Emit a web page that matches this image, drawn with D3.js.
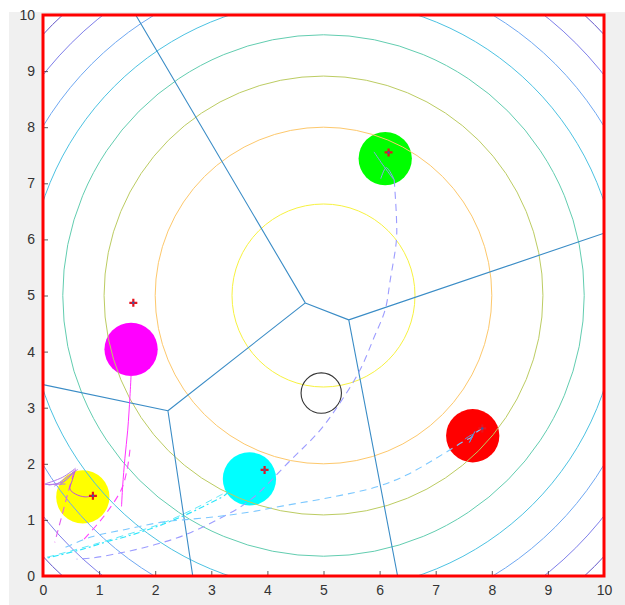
<!DOCTYPE html>
<html>
<head>
<meta charset="utf-8">
<script src="https://cdn.jsdelivr.net/npm/d3@7"></script>
<style>
  html, body { margin: 0; padding: 0; background: #ffffff; }
  svg { display: block; }
</style>
</head>
<body>
<svg id="chart" width="625" height="605"></svg>
<script>
// Axis ticks
const xTicks = [0, 1, 2, 3, 4, 5, 6, 7, 8, 9, 10];
const yTicks = [0, 1, 2, 3, 4, 5, 6, 7, 8, 9, 10];

// Contour levels of the squared distance to the field centre (5, 5), outermost first
const fieldCentre = [5, 5];
const contourLevels = [46.65, 40.45, 34.1, 27.8, 21.6, 15.3, 9.0, 2.66];
const contourColors = ["#6558c8", "#7e7eea", "#6fa8f2", "#4cc2e2", "#62cdb0", "#bccc62", "#fdc86c", "#f7f240"];

// Voronoi sites (targets) and agent bodies
const sites = [[6.16, 7.55], [1.61, 4.87], [0.89, 1.43], [3.95, 1.89], [7.83, 2.63]];
const agentCentres = [[6.10, 7.44], [1.57, 4.04], [0.71, 1.41], [3.68, 1.73], [7.66, 2.50]];
const agentColors = ["#00ff00", "#ff00ff", "#ffff00", "#00ffff", "#ff0000"];
const agentRadius = 0.475;
const obstacle = [4.96, 3.26];
const obstacleRadius = 0.36;

// Recorded trajectories
const pathGreen = [[6.26, 7.06], [6.30, 6.40], [6.30, 5.99], [6.19, 5.28], [6.10, 4.75], [5.90, 4.25],
  [5.65, 3.67], [5.29, 3.08], [4.94, 2.60], [4.40, 2.05], [3.69, 1.35], [3.10, 1.00], [2.50, 0.72],
  [2.00, 0.56], [1.47, 0.43], [0.87, 0.32], [0.60, 0.30]];
const pathGreenStart = [[5.90, 7.56], [6.05, 7.34], [6.26, 7.06], [6.12, 7.28], [6.02, 7.08]];
const pathRed = [[7.83, 2.63], [7.72, 2.56], [7.62, 2.46], [7.55, 2.43], [7.40, 2.34], [6.96, 2.07],
  [6.48, 1.80], [5.95, 1.59], [5.17, 1.41], [4.28, 1.25], [3.69, 1.14], [3.10, 1.06], [2.50, 1.00],
  [2.12, 0.96], [1.47, 0.83], [0.87, 0.70], [0.40, 0.51]];
const pathRedStart = [[7.70, 2.58], [7.60, 2.38], [7.66, 2.52], [7.52, 2.44]];
const pathCyan = [[3.30, 1.50], [3.24, 1.44], [2.86, 1.24], [2.50, 1.07], [2.00, 0.87], [1.47, 0.70],
  [1.10, 0.60], [0.75, 0.49], [0.28, 0.37], [0.03, 0.31]];
const pathCyan2 = [[3.20, 1.46], [2.70, 1.20], [2.10, 0.93], [1.50, 0.74], [0.90, 0.56], [0.40, 0.42], [0.05, 0.33]];
const pathMagenta = [[1.57, 3.58], [1.55, 3.20], [1.51, 2.60], [1.46, 2.10], [1.42, 1.60], [1.40, 1.24]];
const pathMagentaDash = [[1.55, 2.25], [1.50, 1.90], [1.40, 1.55], [1.15, 1.15], [0.95, 0.90], [0.70, 0.62]];
const pathMagentaDash2 = [[0.55, 1.85], [0.45, 1.50], [0.33, 1.05], [0.21, 0.60]];
const pathYellowIn = [[0.58, 1.90], [0.52, 1.70], [0.48, 1.55], [0.58, 1.46], [0.75, 1.41], [0.88, 1.43]];
const purpleFan = [
  [[0.03, 1.64], [0.35, 1.76], [0.58, 1.92]],
  [[0.10, 1.62], [0.40, 1.70], [0.55, 1.88]],
  [[0.30, 1.62], [0.56, 1.85]],
  [[0.20, 1.60], [0.45, 1.78], [0.62, 1.90]],
  [[0.04, 1.63], [0.40, 1.64]]
];

const svg = d3.select("#chart");
const margin = { left: 43, top: 15, right: 604, bottom: 576 };

// figure background
svg.append("rect").attr("x", 9).attr("y", 12).attr("width", 616).attr("height", 593).attr("fill", "#f0f0f0");

const x = d3.scaleLinear().domain([0, 10]).range([margin.left, margin.right]);
const y = d3.scaleLinear().domain([0, 10]).range([margin.bottom, margin.top]);
const k = x(1) - x(0);

svg.append("rect").attr("x", x(0)).attr("y", y(10)).attr("width", x(10) - x(0)).attr("height", y(0) - y(10)).attr("fill", "#ffffff");

svg.append("clipPath").attr("id", "plotClip")
  .append("rect").attr("x", x(0)).attr("y", y(10)).attr("width", x(10) - x(0)).attr("height", y(0) - y(10));

const plot = svg.append("g").attr("clip-path", "url(#plotClip)");

// agent bodies
plot.selectAll("circle.agent").data(agentCentres).join("circle")
  .attr("class", "agent")
  .attr("cx", d => x(d[0])).attr("cy", d => y(d[1]))
  .attr("r", agentRadius * k)
  .attr("fill", (d, i) => agentColors[i]);

// contour rings
plot.selectAll("circle.level").data(contourLevels).join("circle")
  .attr("class", "level")
  .attr("cx", x(fieldCentre[0])).attr("cy", y(fieldCentre[1]))
  .attr("r", d => Math.sqrt(d) * k)
  .attr("fill", "none")
  .attr("stroke", (d, i) => contourColors[i])
  .attr("stroke-width", 1);

// Voronoi partition of the targets
const delaunay = d3.Delaunay.from(sites, d => x(d[0]), d => y(d[1]));
const vor = delaunay.voronoi([x(0), y(10), x(10), y(0)]);
plot.append("path").attr("d", vor.render())
  .attr("fill", "none").attr("stroke", "#3a8cc6").attr("stroke-width", 1.1);

// obstacle
plot.append("circle").attr("cx", x(obstacle[0])).attr("cy", y(obstacle[1]))
  .attr("r", obstacleRadius * k).attr("fill", "none").attr("stroke", "#333333").attr("stroke-width", 1.1);

const line = d3.line().x(d => x(d[0])).y(d => y(d[1])).curve(d3.curveCatmullRom);
function drawPath(pts, color, dash, width) {
  plot.append("path").datum(pts).attr("d", line)
    .attr("fill", "none").attr("stroke", color)
    .attr("stroke-width", width || 1.1)
    .attr("stroke-dasharray", dash || null);
}

drawPath(pathGreen, "#9c9cff", "7,5");
drawPath(pathGreenStart, "#8aa4f0", null, 1);
drawPath(pathRed, "#7cc8ff", "7,5");
drawPath(pathRedStart, "#5a9ee0", null, 1);
drawPath(pathCyan, "#2ee6fa", "6,3,2,3", 1.2);
drawPath(pathCyan2, "#5ee8fa", "7,5", 1);
drawPath(pathMagenta, "#ff33ff", null, 1);
drawPath(pathMagentaDash, "#ff44ff", "7,5");
drawPath(pathMagentaDash2, "#e060f0", "7,5");
purpleFan.forEach(p => drawPath(p, "#b47ae8", null, 1));
drawPath(pathYellowIn, "#c050e0", null, 1);

// target markers
const marks = plot.selectAll("g.site").data(sites).join("g")
  .attr("class", "site")
  .attr("transform", d => `translate(${x(d[0])},${y(d[1])})`);
marks.append("path").attr("d", "M-4,0H4M0,-4V4").attr("stroke", "#e8141e").attr("stroke-width", 2.2);
marks.append("circle").attr("r", 1.2).attr("fill", "#3060b0");

// axes
const tickColor = "#333333";
const xAxis = d3.axisBottom(x).tickValues(xTicks).tickSize(-5).tickPadding(9).tickFormat(d3.format("d"));
const yAxis = d3.axisLeft(y).tickValues(yTicks).tickSize(-5).tickPadding(8).tickFormat(d3.format("d"));

const gx = svg.append("g").attr("transform", `translate(0,${y(0)})`).call(xAxis);
const gy = svg.append("g").attr("transform", `translate(${x(0)},0)`).call(yAxis);
[gx, gy].forEach(g => {
  g.select(".domain").remove();
  g.selectAll("line").attr("stroke", tickColor).attr("stroke-width", 0.8);
  g.selectAll("text").attr("fill", tickColor)
    .style("font-family", "'Liberation Sans', Arial, Helvetica, sans-serif")
    .style("font-size", "14px");
});

// red axes frame
svg.append("rect").attr("x", x(0)).attr("y", y(10)).attr("width", x(10) - x(0)).attr("height", y(0) - y(10))
  .attr("fill", "none").attr("stroke", "#ff0000").attr("stroke-width", 3);
</script>
</body>
</html>
